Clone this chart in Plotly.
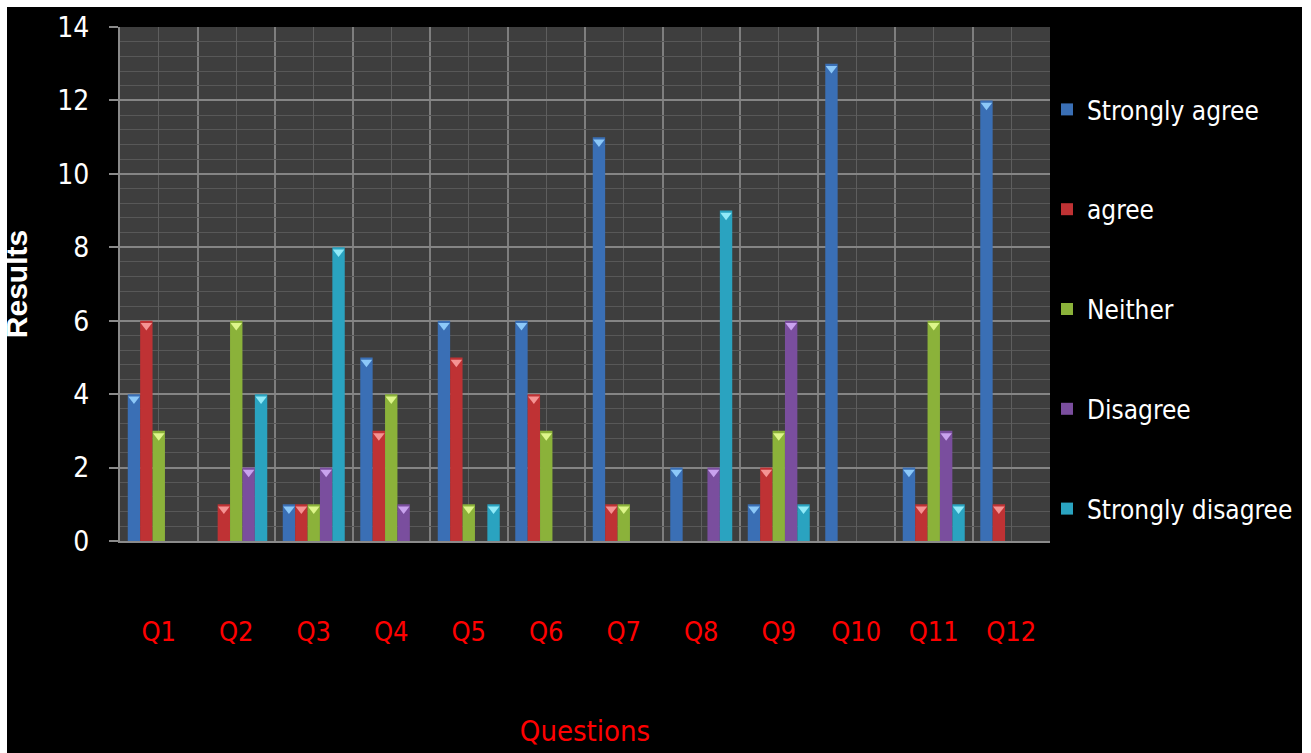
import plotly.graph_objects as go

questions = ["Q1", "Q2", "Q3", "Q4", "Q5", "Q6", "Q7", "Q8", "Q9", "Q10", "Q11", "Q12"]
strongly_agree = [4, 0, 1, 5, 6, 6, 11, 2, 1, 13, 2, 12]
agree = [6, 1, 1, 3, 5, 4, 1, 0, 2, 0, 1, 1]
neither = [3, 6, 1, 4, 1, 3, 1, 0, 3, 0, 6, 0]
disagree = [0, 2, 2, 1, 0, 0, 0, 2, 6, 0, 3, 0]
strongly_disagree = [0, 4, 8, 0, 1, 0, 0, 9, 1, 0, 1, 0]
y_ticks = [0, 2, 4, 6, 8, 10, 12, 14]

series = [
    ("Strongly agree", strongly_agree, "#3A6FB5", "#8CC8F8"),
    ("agree", agree, "#BF3234", "#F59393"),
    ("Neither", neither, "#8BB23A", "#DDF58A"),
    ("Disagree", disagree, "#7A4E9E", "#C9A2EE"),
    ("Strongly disagree", strongly_disagree, "#2AA3C0", "#90EAF8"),
]

xpos = list(range(len(questions)))
NARROW = "DejaVu Sans Condensed, Liberation Sans Narrow, sans-serif"

fig = go.Figure()
for name, vals, col, tip in series:
    fig.add_trace(go.Bar(
        x=xpos, y=vals, name=name, offsetgroup=name, legendgroup=name,
        marker=dict(color=col, line=dict(width=0)),
    ))
for name, vals, col, tip in series:
    fig.add_trace(go.Scatter(
        x=xpos, y=[(v - 0.13) if v > 0 else None for v in vals],
        mode="markers", offsetgroup=name, showlegend=False, hoverinfo="skip",
        marker=dict(symbol="triangle-down", size=10, color=tip, line=dict(width=0)),
    ))

W, H = 1311, 753
L, R, T, B = 120, 261, 27, 212
pw, ph = W - L - R, H - T - B

def px_x(p):
    return (p - L) / pw

def px_y(p):
    return (H - B - p) / ph

white_strips = [
    (px_x(-5), px_y(-5), px_x(7), px_y(H + 5)),
    (px_x(-5), px_y(-5), px_x(W + 5), px_y(7)),
    (px_x(1302), px_y(-5), px_x(W + 5), px_y(H + 5)),
]
shapes = [dict(type="rect", xref="paper", yref="paper", x0=a, y0=b, x1=c, y1=d,
               fillcolor="white", line=dict(width=0), layer="above")
          for a, b, c, d in white_strips]

fig.update_layout(
    width=W, height=H,
    margin=dict(l=L, r=R, t=T, b=B, pad=0, autoexpand=False),
    paper_bgcolor="black", plot_bgcolor="#3E3E3E",
    barmode="group", bargap=0.2, bargroupgap=0,
    scattermode="group", scattergap=0.2,
    shapes=shapes,
    legend=dict(
        x=px_x(1047), xanchor="left", y=px_y(86), yanchor="top",
        font=dict(family=NARROW, size=26, color="white"),
        tracegroupgap=63, bgcolor="rgba(0,0,0,0)",
    ),
    xaxis=dict(
        range=[-0.5, len(questions) - 0.5], automargin=False,
        tickmode="array", tickvals=xpos, ticktext=questions,
        tickfont=dict(family=NARROW, size=27, color="#FF0000"),
        ticklabelstandoff=66,
        showgrid=True, gridcolor="#5E5E5E", gridwidth=1,
        minor=dict(tickvals=[p + 0.5 for p in xpos], showgrid=True,
                   gridcolor="#7E7E7E", gridwidth=2),
        showline=True, linecolor="#8A8A8A", linewidth=2, mirror=False,
        ticks="", zeroline=False,
        title=dict(text="Questions", font=dict(family=NARROW, size=29, color="#FF0000"),
                   standoff=74),
    ),
    yaxis=dict(
        range=[0, 14], tickmode="array", tickvals=y_ticks, automargin=False,
        tickfont=dict(family=NARROW, size=28, color="white"),
        ticks="outside", ticklen=9, tickcolor="#8A8A8A", tickwidth=2,
        ticklabelstandoff=14,
        showgrid=True, gridcolor="#858585", gridwidth=2,
        minor=dict(dtick=0.4, showgrid=True, gridcolor="#585858", gridwidth=1),
        showline=True, linecolor="#8A8A8A", linewidth=2,
        zeroline=False,
        title=dict(text="<b>Results</b>", font=dict(family="Liberation Sans, Arial, sans-serif",
                   size=30, color="white"), standoff=22),
    ),
    showlegend=True,
)

fig.write_html("out.html")
